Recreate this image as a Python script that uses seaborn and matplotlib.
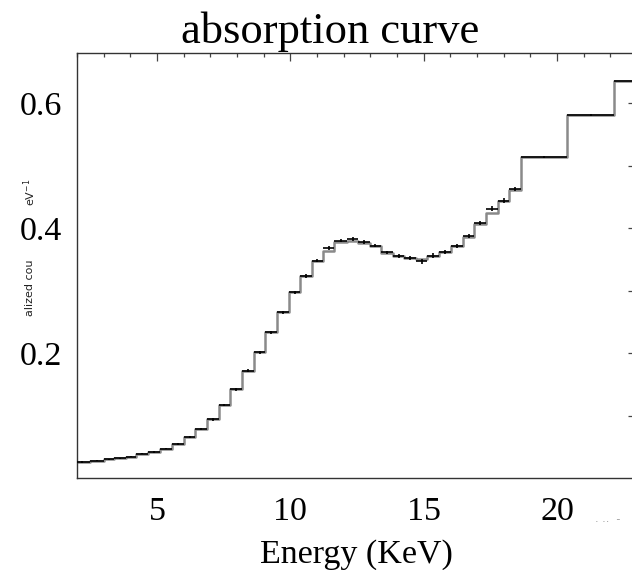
import numpy as np
import pandas as pd
import matplotlib
matplotlib.use("Agg")
import matplotlib.pyplot as plt
from matplotlib.ticker import FixedLocator, MultipleLocator
import seaborn as sns

# ---- data ----
bin_edges = [1.9, 2.5, 3.0, 3.37, 3.82, 4.22, 4.67, 5.13, 5.57, 6.0, 6.44,
             6.88, 7.31, 7.75, 8.19, 8.63, 9.06, 9.50, 9.94, 10.37, 10.81,
             11.22, 11.65, 12.12, 12.54, 12.97, 13.40, 13.85, 14.27, 14.71,
             15.14, 15.58, 16.02, 16.47, 16.89, 17.33, 17.80, 18.21, 18.65,
             20.36, 22.15, 23.9]
data_counts = [0.0256, 0.028, 0.030, 0.0315, 0.034, 0.039, 0.042, 0.047,
               0.054, 0.066, 0.078, 0.094, 0.117, 0.142, 0.172, 0.201, 0.233,
               0.265, 0.297, 0.323, 0.348, 0.368, 0.380, 0.382, 0.378, 0.372,
               0.361, 0.356, 0.352, 0.347, 0.356, 0.362, 0.371, 0.387, 0.408,
               0.431, 0.444, 0.462, 0.514, 0.581, 0.636]
model_counts = [0.0256, 0.028, 0.030, 0.0315, 0.034, 0.039, 0.042, 0.047,
                0.054, 0.066, 0.078, 0.094, 0.117, 0.142, 0.172, 0.201, 0.233,
                0.265, 0.297, 0.323, 0.348, 0.364, 0.378, 0.380, 0.376, 0.372,
                0.360, 0.355, 0.352, 0.350, 0.355, 0.362, 0.371, 0.386, 0.407,
                0.424, 0.443, 0.461, 0.514, 0.581, 0.636]
count_errors = [0.001, 0.001, 0.001, 0.001, 0.001, 0.001, 0.0012, 0.0012,
                0.0015, 0.0015, 0.0018, 0.002, 0.002, 0.002, 0.0022, 0.0022,
                0.0025, 0.0025, 0.0025, 0.0028, 0.003, 0.003, 0.003, 0.003,
                0.003, 0.003, 0.003, 0.0032, 0.0035, 0.004, 0.0035, 0.0035,
                0.0035, 0.0035, 0.0035, 0.004, 0.0035, 0.0035, 0.002, 0.002,
                0.002]
x_ticks_major = [5, 10, 15, 20]
y_ticks = [0.1, 0.2, 0.3, 0.4, 0.5, 0.6]
y_tick_labels = ["", "0.2", "", "0.4", "", "0.6"]
title_text = "absorption curve"
x_label = "Energy (KeV)"
y_label_parts = ["alized cou", "eV$^{-1}$"]
corner_marks = ". ..  -"

# ---- figure ----
sns.set_theme(style="white")
plt.rcParams["font.family"] = ["Liberation Serif", "DejaVu Serif"]
plt.rcParams["mathtext.fontset"] = "dejavusans"
plt.rcParams["text.color"] = "black"
plt.rcParams["axes.labelcolor"] = "black"
plt.rcParams["xtick.labelcolor"] = "black"
plt.rcParams["ytick.labelcolor"] = "black"

W, H = 632, 570
fig = plt.figure(figsize=(W / 100, H / 100), dpi=100)
fig.patch.set_facecolor("white")
ax = fig.add_axes([77 / W, 1 - 478 / H, (635 - 77) / W, (478 - 53) / H])
ax.set_facecolor("white")

edges = np.asarray(bin_edges)
model = np.asarray(model_counts)
step_df = pd.DataFrame({"energy": edges,
                        "counts": np.append(model, model[-1])})
sns.lineplot(data=step_df, x="energy", y="counts", ax=ax,
             drawstyle="steps-post", color="#8a8a8a", linewidth=1.8,
             estimator=None, sort=False)

centers = (edges[:-1] + edges[1:]) / 2
halfw = (edges[1:] - edges[:-1]) / 2
ax.errorbar(centers, data_counts, xerr=halfw, yerr=count_errors, fmt="none",
            ecolor="black", elinewidth=1.2, capsize=0, zorder=3)

ax.set_xlim(2.0, 10 + (635 - 290) / 26.7)
ax.set_ylim(0, 0.68)

ax.xaxis.set_major_locator(FixedLocator(x_ticks_major))
ax.xaxis.set_minor_locator(MultipleLocator(1))
ax.set_xticklabels([str(v) for v in x_ticks_major])
ax.yaxis.set_major_locator(FixedLocator(y_ticks))
ax.set_yticklabels(y_tick_labels)

ax.tick_params(axis="both", which="both", direction="in", top=True,
               right=True, color="#444444", width=0.9,
               labelcolor="black")
ax.tick_params(axis="x", which="major", length=5.5, pad=13, labelsize=24.5)
ax.tick_params(axis="x", which="minor", length=2.8)
ax.tick_params(axis="y", which="major", length=5, pad=11, labelsize=24.5)

for s in ax.spines.values():
    s.set_color("#333333")
    s.set_linewidth(1.0)

ax.set_ylabel("")
ax.set_xlabel(x_label, fontsize=24.5, labelpad=9, color="black")

fig.text(330 / W, 1 - 43 / H, title_text, ha="center", va="baseline",
         fontsize=32, color="black")

fig.text(30 / W, 1 - 288 / H, y_label_parts[0], rotation=90, ha="center",
         va="center", fontsize=8, family="DejaVu Sans", color="#222222")
fig.text(30 / W, 1 - 192 / H, y_label_parts[1], rotation=90, ha="center",
         va="center", fontsize=8, family="DejaVu Sans", color="#222222")
fig.text(595 / W, 1 - 522 / H, corner_marks, ha="left", va="baseline",
         fontsize=8, family="DejaVu Sans", color="#999999")

fig.savefig("out.png", dpi=100, facecolor="white")
